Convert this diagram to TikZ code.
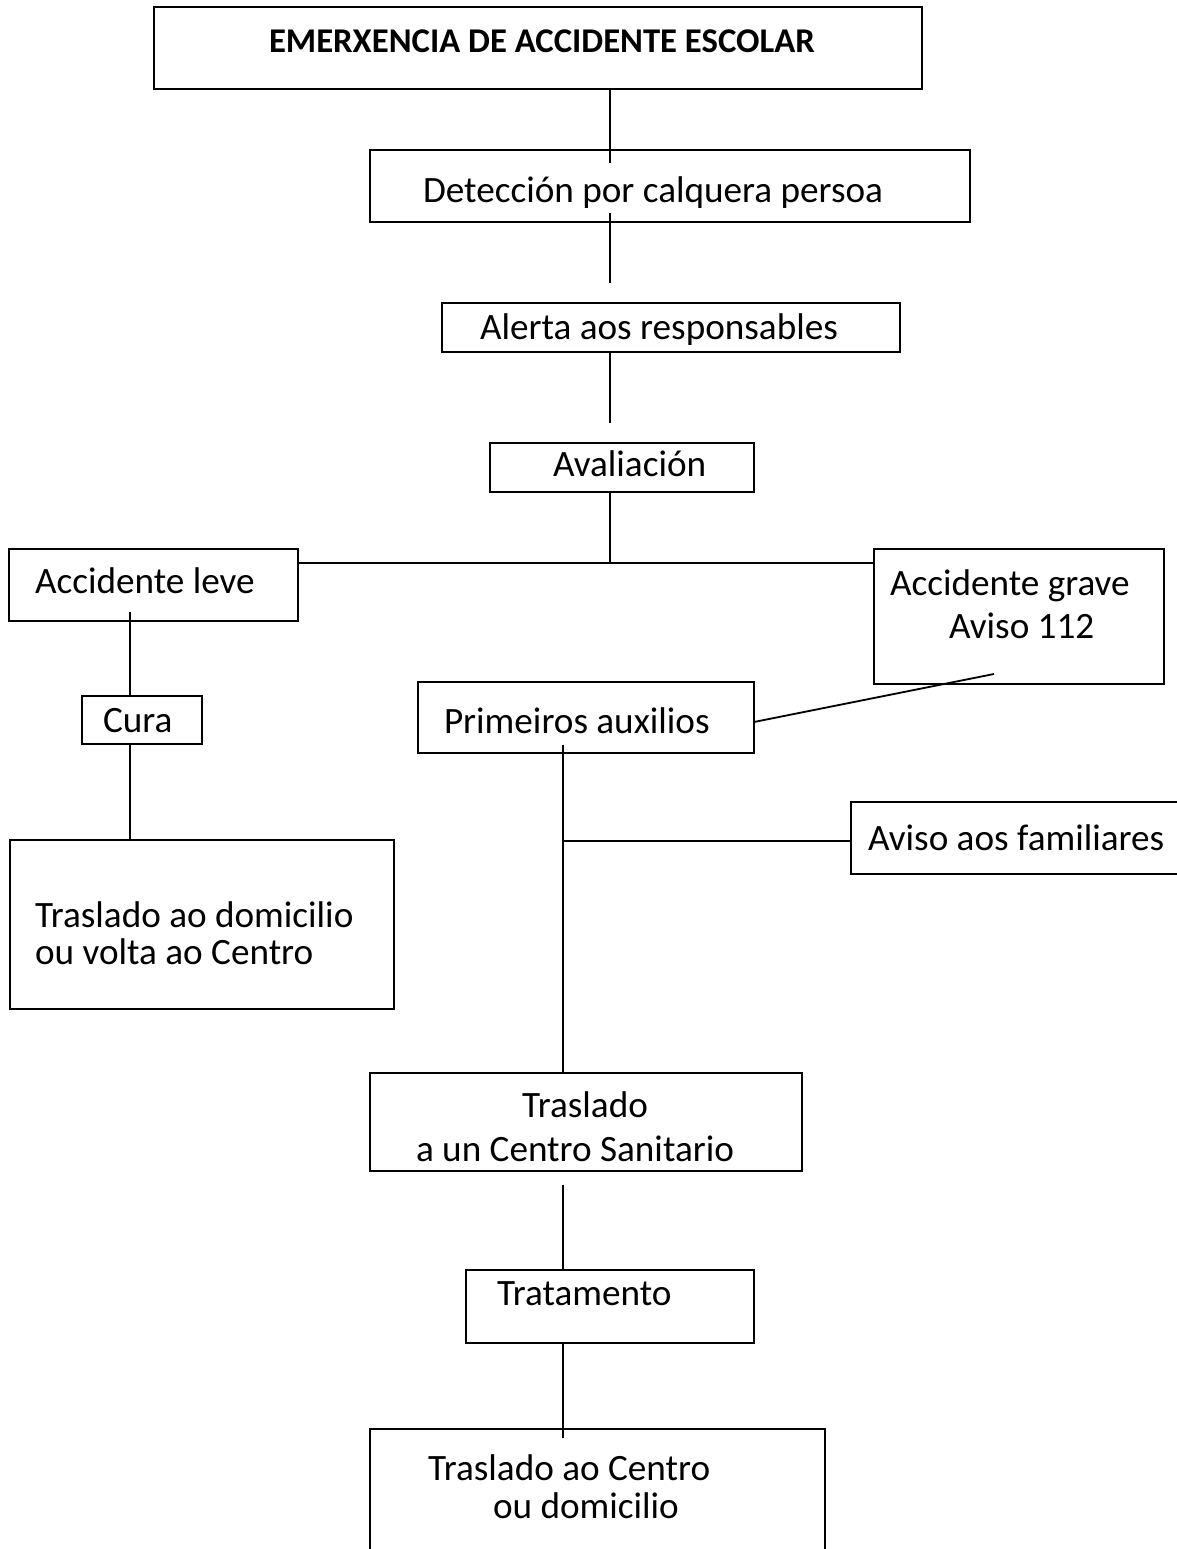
\documentclass[tikz,border=0pt]{standalone}
\usepackage{fontspec}
\setmainfont{Carlito}
\begin{document}
\begin{tikzpicture}[x=1pt,y=-1pt,
  box/.style={draw, line width=1.8pt, inner sep=0pt, outer sep=0pt, anchor=north west},
  lbl/.style={inner sep=0pt, outer sep=0pt, anchor=base west, font=\fontsize{37.2}{44}\selectfont},
  conn/.style={line width=1.8pt}]
\useasboundingbox (0,0) rectangle (1176,1549);
% boxes
\node[box, minimum width=768pt, minimum height=82pt] (b1) at (154,7) {};
\node[box, minimum width=600pt, minimum height=72pt] (b2) at (370,150) {};
\node[box, minimum width=458pt, minimum height=49pt] (b3) at (442,303) {};
\node[box, minimum width=264pt, minimum height=49pt] (b4) at (490,443) {};
\node[box, minimum width=289pt, minimum height=72pt] (leve) at (9,549) {};
\node[box, minimum width=290pt, minimum height=135pt] (grave) at (874,549) {};
\node[box, minimum width=120pt, minimum height=48pt] (cura) at (82,696) {};
\node[box, minimum width=336pt, minimum height=71pt] (prim) at (418,682) {};
\node[box, minimum width=384pt, minimum height=169pt] (dom) at (10,840) {};
\node[box, minimum width=340pt, minimum height=72pt] (fam) at (851,802) {};
\node[box, minimum width=432pt, minimum height=98pt] (san) at (370,1073) {};
\node[box, minimum width=288pt, minimum height=73pt] (trat) at (466,1270) {};
\node[box, minimum width=455pt, minimum height=140pt] (fin) at (370,1429) {};
% texts
\node[lbl, font=\fontsize{34.7}{42}\selectfont\bfseries] (t1) at (269,53) {EMERXENCIA DE ACCIDENTE ESCOLAR};
\node[lbl] (t2) at (423,203) {Detección por calquera persoa};
\node[lbl] (t3) at (480,339) {Alerta aos responsables};
\node[lbl] (t4) at (553,476) {Avaliación};
\node[lbl] (t5) at (35,593) {Accidente leve};
\node[lbl] (t6) at (103,732) {Cura};
\node[lbl] (t7a) at (890,595) {Accidente grave};
\node[lbl] (t7b) at (949,638) {Aviso 112};
\node[lbl] (t8) at (444,733) {Primeiros auxilios};
\node[lbl] (t9a) at (35,927) {Traslado ao domicilio};
\node[lbl] (t9b) at (35,964) {ou volta ao Centro};
\node[lbl] (t10) at (868,850) {Aviso aos familiares};
\node[lbl] (t11a) at (522,1117) {Traslado};
\node[lbl] (t11b) at (416,1161) {a un Centro Sanitario};
\node[lbl] (t12) at (497,1305) {Tratamento};
\node[lbl] (t13a) at (428,1480) {Traslado ao Centro};
\node[lbl] (t13b) at (493,1518) {ou domicilio};
% connectors
\coordinate (tk) at (610,0);
\coordinate (lk) at (130,0);
\coordinate (mk) at (563,0);
\coordinate (j1) at (610,563);
\coordinate (j2) at (563,841);
\draw[conn] (b1.south -| tk) -- ([yshift=-13pt]b2.north -| tk);
\draw[conn] ([yshift=9pt]b2.south -| tk) -- ([yshift=20pt]b3.north -| tk);
\draw[conn] (b3.south -| tk) -- ([yshift=20pt]b4.north -| tk);
\draw[conn] (b4.south -| tk) -- (j1);
\draw[conn] (leve.east |- j1) -- (grave.west |- j1);
\draw[conn] ([yshift=9pt]leve.south -| lk) -- (cura.north -| lk);
\draw[conn] (cura.south -| lk) -- (dom.north -| lk);
\draw[conn] ([yshift=-4.5pt]prim.east) -- ([xshift=-25pt,yshift=10pt]grave.south);
\draw[conn] ([yshift=8pt]prim.south -| mk) -- (san.north -| mk);
\draw[conn] (j2) -- (fam.west |- j2);
\draw[conn] ([yshift=-14pt]san.south -| mk) -- (trat.north -| mk);
\draw[conn] (trat.south -| mk) -- ([yshift=-9pt]fin.north -| mk);
\end{tikzpicture}
\end{document}
